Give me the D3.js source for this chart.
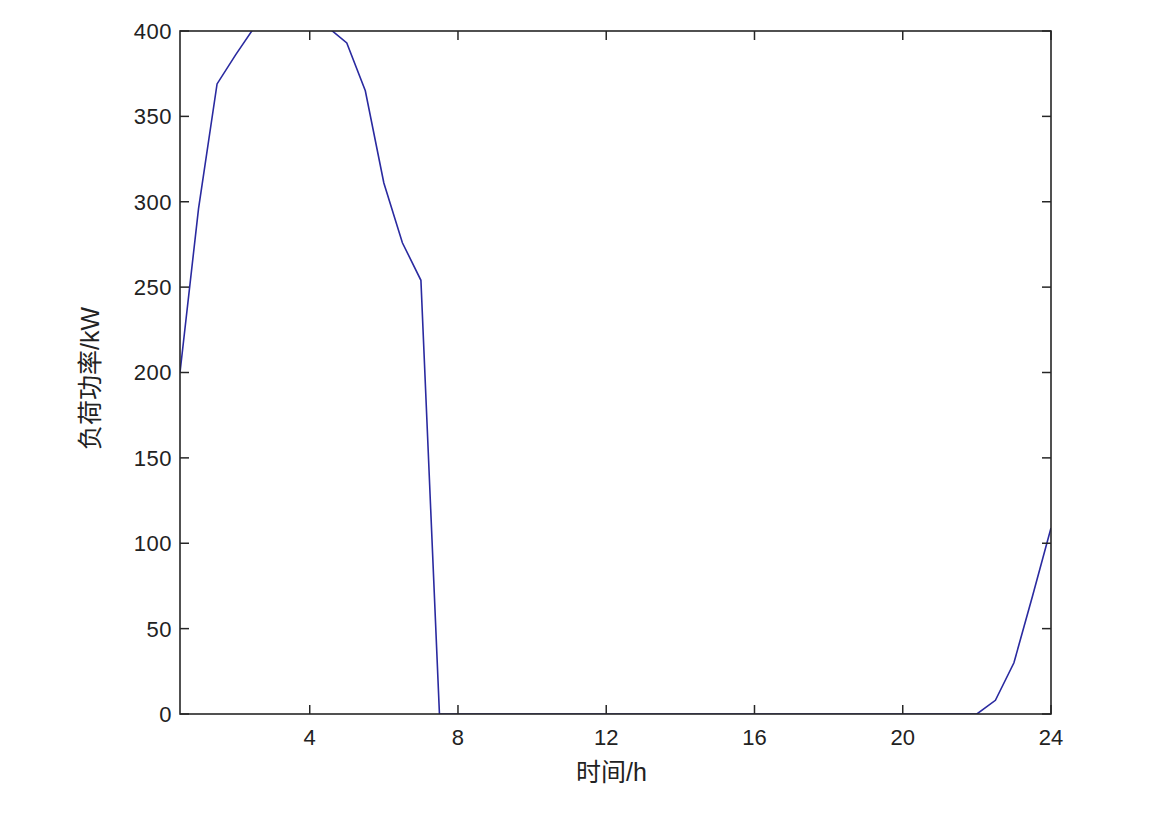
<!DOCTYPE html>
<html>
<head>
<meta charset="utf-8">
<script src="https://cdn.jsdelivr.net/npm/d3@7"></script>
<style>
  body { margin: 0; background: #fff; }
  text { font-family: "Liberation Sans", Arial, sans-serif; fill: #222; }
</style>
</head>
<body>
<div id="chart"></div>
<script>
// half-hour load samples, clipped to [0,400] by the axes
var hours = [0.5, 1, 1.5, 2, 2.5, 3, 3.5, 4, 4.5, 5, 5.5, 6, 6.5, 7, 7.5,
             8, 8.5, 9, 9.5, 10, 10.5, 11, 11.5, 12, 12.5, 13, 13.5, 14, 14.5, 15, 15.5,
             16, 16.5, 17, 17.5, 18, 18.5, 19, 19.5, 20, 20.5, 21, 21.5,
             22, 22.5, 23, 23.5, 24];
var load = [200, 296, 369, 386, 402, 415, 425, 415, 402, 393, 365, 311, 276, 254, 0,
            0, 0, 0, 0, 0, 0, 0, 0, 0, 0, 0, 0, 0, 0, 0, 0,
            0, 0, 0, 0, 0, 0, 0, 0, 0, 0, 0, 0,
            0, 8, 30, 69, 109];
var xTicks = [4, 8, 12, 16, 20, 24];
var yTicks = [0, 50, 100, 150, 200, 250, 300, 350, 400];

var margin = {top: 31, right: 121, bottom: 102, left: 180};
var width = 1172 - margin.left - margin.right,
    height = 816 - margin.top - margin.bottom;

var svg = d3.select("#chart").append("svg")
    .attr("width", 1172)
    .attr("height", 816);

var g = svg.append("g")
    .attr("transform", "translate(" + margin.left + "," + margin.top + ")");

var x = d3.scaleLinear().domain([0.5, 24]).range([0, width]);
var y = d3.scaleLinear().domain([0, 400]).range([height, 0]);

g.append("clipPath").attr("id", "clip")
  .append("rect").attr("width", width).attr("height", height);

var line = d3.line()
    .x(function (d, i) { return x(hours[i]); })
    .y(function (d) { return y(d); });

g.append("path")
    .datum(load)
    .attr("clip-path", "url(#clip)")
    .attr("fill", "none")
    .attr("stroke", "#2a2aa0")
    .attr("stroke-width", 1.6)
    .attr("d", line);

var tk = 9;
var axisCol = "#262626";

// box
g.append("rect")
    .attr("width", width).attr("height", height)
    .attr("fill", "none").attr("stroke", axisCol).attr("stroke-width", 1.6);

// ticks (inward, both sides)
g.selectAll("line.xt").data(xTicks).enter().append("line")
    .attr("x1", function (d) { return x(d); }).attr("x2", function (d) { return x(d); })
    .attr("y1", height).attr("y2", height - tk)
    .attr("stroke", axisCol).attr("stroke-width", 1.5);
g.selectAll("line.xt2").data(xTicks).enter().append("line")
    .attr("x1", function (d) { return x(d); }).attr("x2", function (d) { return x(d); })
    .attr("y1", 0).attr("y2", tk)
    .attr("stroke", axisCol).attr("stroke-width", 1.5);
g.selectAll("line.yt").data(yTicks).enter().append("line")
    .attr("x1", 0).attr("x2", tk)
    .attr("y1", function (d) { return y(d); }).attr("y2", function (d) { return y(d); })
    .attr("stroke", axisCol).attr("stroke-width", 1.5);
g.selectAll("line.yt2").data(yTicks).enter().append("line")
    .attr("x1", width).attr("x2", width - tk)
    .attr("y1", function (d) { return y(d); }).attr("y2", function (d) { return y(d); })
    .attr("stroke", axisCol).attr("stroke-width", 1.5);

// tick labels
g.selectAll("text.xl").data(xTicks).enter().append("text")
    .attr("x", function (d) { return x(d); })
    .attr("y", height + 31)
    .attr("text-anchor", "middle")
    .style("font-size", "22px")
    .text(function (d) { return d; });

g.selectAll("text.yl").data(yTicks).enter().append("text")
    .attr("x", -8)
    .attr("y", function (d) { return y(d); })
    .attr("dy", "0.36em")
    .attr("text-anchor", "end")
    .style("font-size", "22px")
    .style("letter-spacing", "0.5px")
    .text(function (d) { return d; });

// axis titles
var xt = g.append("text")
    .attr("x", width / 2 - 4)
    .attr("y", height + 67)
    .attr("text-anchor", "middle")
    .style("font-size", "25px");
xt.append("tspan").style("font-family", "'Noto Sans CJK SC', sans-serif").text("时间");
xt.append("tspan").text("/h");

var yt = g.append("text")
    .attr("transform", "translate(" + (-81) + "," + (height / 2 + 6) + ") rotate(-90)")
    .attr("text-anchor", "middle")
    .style("font-size", "25px");
yt.append("tspan").style("font-family", "'Noto Sans CJK SC', sans-serif").text("负荷功率");
yt.append("tspan").text("/kW");
</script>
</body>
</html>
